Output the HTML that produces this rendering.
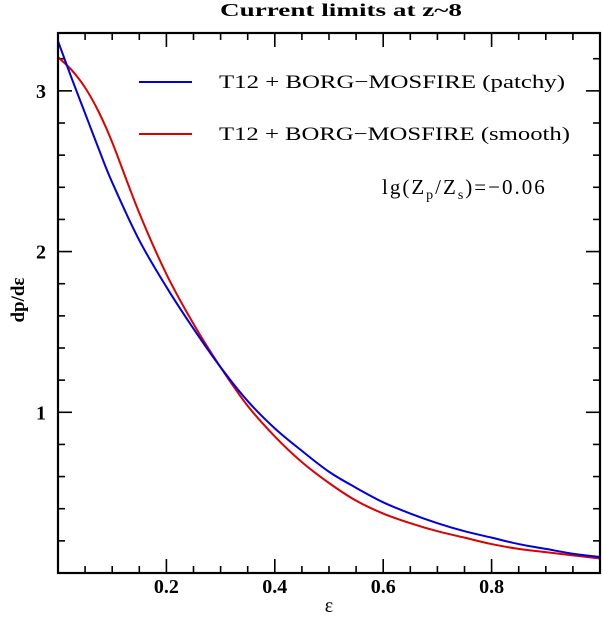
<!DOCTYPE html>
<html><head><meta charset="utf-8"><style>
body{margin:0;background:#fff;}
svg text{font-family:"Liberation Serif",serif;fill:#000;}
</style></head><body>
<svg width="603" height="620" viewBox="0 0 603 620">
<g id="ticks"></g>
<g id="series"></g>
<rect x="58" y="33" width="542" height="540" fill="none" stroke="#000" stroke-width="2.2"/>
<text x="220" y="16" font-size="18" font-weight="bold" textLength="242" lengthAdjust="spacingAndGlyphs">Current limits at z~8</text>
<text x="329" y="612" text-anchor="middle" font-size="20">ε</text>
<text transform="translate(24,300) rotate(-90)" text-anchor="middle" font-size="19" font-weight="bold">dp/dε</text>
<line x1="139" y1="82" x2="192" y2="82" stroke="#0000dd" stroke-width="2"/>
<text x="219" y="88" font-size="19" textLength="346" lengthAdjust="spacingAndGlyphs">T12 + BORG−MOSFIRE (patchy)</text>
<line x1="139" y1="134" x2="192" y2="134" stroke="#dd0000" stroke-width="2"/>
<text x="219" y="140" font-size="19" textLength="351" lengthAdjust="spacingAndGlyphs">T12 + BORG−MOSFIRE (smooth)</text>
<text x="382" y="194" font-size="21" letter-spacing="2">lg(Z<tspan font-size="14" dy="5">p</tspan><tspan dy="-5">/Z</tspan><tspan font-size="14" dy="5">s</tspan><tspan dy="-5">)=−0.06</tspan></text>
</svg>
<script>
const xVals=[0,0.025,0.05,0.075,0.1,0.15,0.2,0.25,0.3,0.35,0.4,0.45,0.5,0.55,0.6,0.65,0.7,0.75,0.8,0.85,0.9,0.95,1.0];
const patchy=[3.31,3.08,2.86,2.64,2.43,2.07,1.78,1.52,1.28,1.07,0.90,0.76,0.63,0.53,0.44,0.37,0.31,0.26,0.22,0.18,0.15,0.12,0.10];
const smooth=[3.21,3.13,3.02,2.87,2.68,2.24,1.86,1.55,1.28,1.04,0.85,0.69,0.56,0.45,0.37,0.31,0.26,0.22,0.18,0.15,0.13,0.11,0.09];
const xTickLabels=["0.2","0.4","0.6","0.8"];
const yTickLabels=["1","2","3"];
const X0=58,X1=600,Y0=573,Y1=33,XMIN=0,XMAX=1,YMIN=0,YMAX=3.36;
const sx=v=>X0+(v-XMIN)/(XMAX-XMIN)*(X1-X0);
const sy=v=>Y0-(v-YMIN)/(YMAX-YMIN)*(Y0-Y1);
const NS="http://www.w3.org/2000/svg";
const tg=document.getElementById('ticks');
function ln(x1,y1,x2,y2){const l=document.createElementNS(NS,'line');l.setAttribute('x1',x1);l.setAttribute('y1',y1);l.setAttribute('x2',x2);l.setAttribute('y2',y2);l.setAttribute('stroke','#000');l.setAttribute('stroke-width','1.6');


tg.appendChild(l);}
for(let i=1;i<20;i++){const v=i*0.05,maj=i%4===0,L=maj?14:7,x=sx(v);ln(x,Y0,x,Y0-L);ln(x,Y1,x,Y1+L);}
for(let i=1;i<=16;i++){const v=i*0.2,maj=i%5===0,L=maj?14:7,y=sy(v);if(y<Y1)continue;ln(X0,y,X0+L,y);ln(X1,y,X1-L,y);}
xTickLabels.forEach(s=>{const t=document.createElementNS(NS,'text');t.setAttribute('x',sx(+s));t.setAttribute('y',593);t.setAttribute('text-anchor','middle');t.setAttribute('font-size','20');t.setAttribute('font-weight','bold');t.textContent=s;


tg.appendChild(t);});
yTickLabels.forEach(s=>{const t=document.createElementNS(NS,'text');t.setAttribute('x',46);t.setAttribute('y',sy(+s)+7);t.setAttribute('text-anchor','end');t.setAttribute('font-size','20');t.setAttribute('font-weight','bold');t.textContent=s;


tg.appendChild(t);});
function pathFor(ys){const p=xVals.map((x,i)=>[sx(x),sy(ys[i])]);let d='M'+p[0][0]+','+p[0][1];
for(let i=0;i<p.length-1;i++){const a=p[i-1]||p[i],b=p[i],c=p[i+1],e=p[i+2]||c;
d+=' C'+(b[0]+(c[0]-a[0])/6)+','+(b[1]+(c[1]-a[1])/6)+' '+(c[0]-(e[0]-b[0])/6)+','+(c[1]-(e[1]-b[1])/6)+' '+c[0]+','+c[1];}return d;}
const sg=document.getElementById('series');
[[smooth,'#dd0000','series-smooth'],[patchy,'#0000dd','series-patchy']].forEach(([ys,c,n])=>{const p=document.createElementNS(NS,'path');p.setAttribute('d',pathFor(ys));p.setAttribute('fill','none');p.setAttribute('stroke',c);p.setAttribute('stroke-width','2');


sg.appendChild(p);});
</script>
</body></html>
